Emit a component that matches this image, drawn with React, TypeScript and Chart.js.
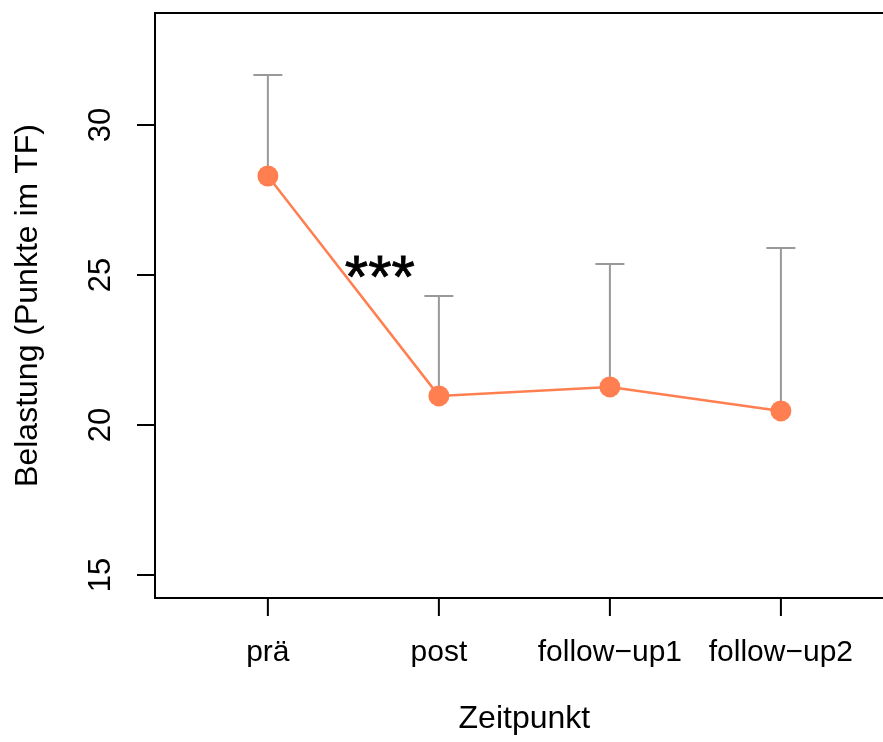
import React, { useEffect, useRef } from "react";
import { Chart, registerables } from "chart.js";

Chart.register(...registerables);

// ---- data ----
const categories = ["prä", "post", "follow−up1", "follow−up2"];
const means = [28.3, 20.97, 21.27, 20.47];
const upperBounds = [31.67, 24.3, 25.37, 25.9];
const yTicks = [15, 20, 25, 30];
const xTitle = "Zeitpunkt";
const yTitle = "Belastung (Punkte im TF)";
const sigLabel = "***";
const sigAt = { x: 1.655, y: 25.27 };

const FONT = '"Liberation Sans", Arial, Helvetica, sans-serif';
const CORAL = "#FF7F50";
const GRAY = "#999999";

const X_MIN = 0.34;
const X_FULL_MAX = 4.66;
const X_MAX = 4.597;
const Y_MIN = 14.233;
const Y_MAX = 33.733;

const rBasePlugin = {
  id: "rBase",
  beforeDatasetsDraw(chart: any) {
    const { ctx, scales } = chart;
    const x = scales.x;
    const y = scales.y;
    ctx.save();
    ctx.strokeStyle = GRAY;
    ctx.lineWidth = 2;
    means.forEach((m, i) => {
      const px = x.getPixelForValue(i + 1);
      const p0 = y.getPixelForValue(m);
      const p1 = y.getPixelForValue(upperBounds[i]);
      ctx.beginPath();
      ctx.moveTo(px, p0);
      ctx.lineTo(px, p1);
      ctx.moveTo(px - 14.5, p1);
      ctx.lineTo(px + 14.5, p1);
      ctx.stroke();
    });
    ctx.restore();
  },
  afterDraw(chart: any) {
    const { ctx, scales, chartArea } = chart;
    const x = scales.x;
    const y = scales.y;
    const left = chartArea.left;
    const top = chartArea.top;
    const bottom = chartArea.bottom;
    const right = x.getPixelForValue(X_FULL_MAX);
    ctx.save();
    // box
    ctx.strokeStyle = "#000";
    ctx.lineWidth = 2;
    ctx.strokeRect(left, top, right - left, bottom - top);
    // ticks
    ctx.beginPath();
    yTicks.forEach((t) => {
      const py = y.getPixelForValue(t);
      ctx.moveTo(left - 18, py);
      ctx.lineTo(left, py);
    });
    categories.forEach((_, i) => {
      const px = x.getPixelForValue(i + 1);
      ctx.moveTo(px, bottom);
      ctx.lineTo(px, bottom + 18);
    });
    ctx.stroke();
    ctx.fillStyle = "#000";
    // y tick labels (rotated)
    ctx.font = `31px ${FONT}`;
    ctx.textAlign = "center";
    ctx.textBaseline = "alphabetic";
    yTicks.forEach((t) => {
      const py = y.getPixelForValue(t);
      ctx.save();
      ctx.translate(110, py);
      ctx.rotate(-Math.PI / 2);
      ctx.fillText(String(t), 0, 0);
      ctx.restore();
    });
    // x tick labels
    ctx.font = `30px ${FONT}`;
    categories.forEach((c, i) => {
      const px = x.getPixelForValue(i + 1);
      ctx.fillText(c, px, 661);
    });
    // x title
    ctx.font = `32px ${FONT}`;
    ctx.fillText(xTitle, x.getPixelForValue((X_MIN + X_FULL_MAX) / 2), 728);
    // y title
    ctx.save();
    ctx.translate(37, (top + bottom) / 2);
    ctx.rotate(-Math.PI / 2);
    ctx.fillText(yTitle, 0, 0);
    ctx.restore();
    // significance stars
    ctx.font = `60px ${FONT}`;
    const m = ctx.measureText(sigLabel);
    const asc = m.actualBoundingBoxAscent;
    const desc = m.actualBoundingBoxDescent;
    const cy = y.getPixelForValue(sigAt.y);
    const sx = x.getPixelForValue(sigAt.x);
    const sy = cy + (asc - desc) / 2;
    ctx.lineWidth = 0.8;
    ctx.fillText(sigLabel, sx, sy);
    ctx.strokeText(sigLabel, sx, sy);
    ctx.restore();
  },
};

export default function App() {
  const ref = useRef<HTMLCanvasElement | null>(null);
  useEffect(() => {
    if (!ref.current) return;
    const chart = new Chart(ref.current, {
      type: "line",
      data: {
        datasets: [
          {
            data: means.map((m, i) => ({ x: i + 1, y: m })),
            borderColor: CORAL,
            backgroundColor: CORAL,
            borderWidth: 2.5,
            pointRadius: 10.5,
            pointHoverRadius: 10.5,
            pointBackgroundColor: CORAL,
            pointBorderWidth: 0,
            tension: 0,
            clip: false,
          },
        ],
      },
      options: {
        responsive: false,
        animation: false,
        devicePixelRatio: 1,
        layout: { autoPadding: false, padding: { left: 155, top: 13, right: 0, bottom: 144 } },
        plugins: { legend: { display: false }, tooltip: { enabled: false } },
        events: [],
        scales: {
          x: { type: "linear", min: X_MIN, max: X_MAX, display: false },
          y: { type: "linear", min: Y_MIN, max: Y_MAX, display: false },
        },
      },
      plugins: [rBasePlugin],
    });
    return () => chart.destroy();
  }, []);
  return (
    <canvas
      ref={ref}
      width={883}
      height={742}
      style={{ position: "fixed", left: 0, top: 0, width: 883, height: 742, background: "#fff" }}
    />
  );
}
